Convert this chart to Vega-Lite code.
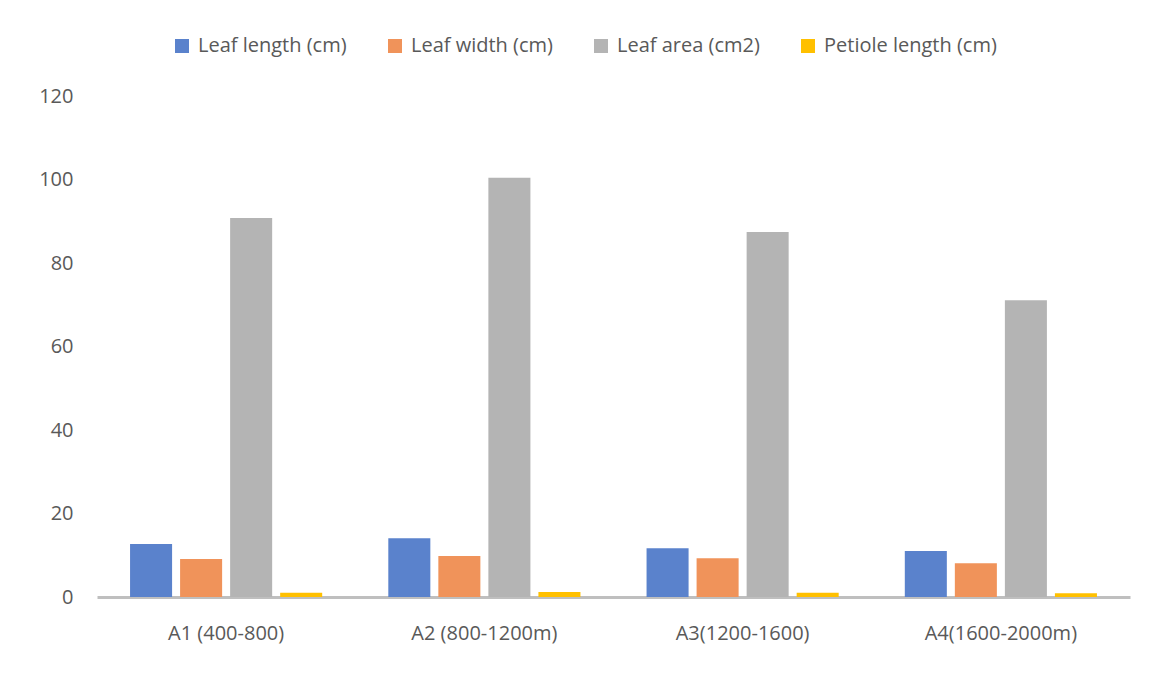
{
  "$schema": "https://vega.github.io/schema/vega-lite/v6.json",
  "width": 1033,
  "height": 501,
  "autosize": "none",
  "padding": {"left": 97, "top": 96, "right": 23, "bottom": 78},
  "background": "white",
  "config": {
    "view": {"stroke": null},
    "font": "Open Sans"
  },
  "data": {
    "values": [
      {"site": "A1 (400-800)", "trait": "Leaf length (cm)", "value": 12.7},
      {"site": "A1 (400-800)", "trait": "Leaf width (cm)", "value": 9.1},
      {"site": "A1 (400-800)", "trait": "Leaf area (cm2)", "value": 90.8},
      {"site": "A1 (400-800)", "trait": "Petiole length (cm)", "value": 1.0},
      {"site": "A2 (800-1200m)", "trait": "Leaf length (cm)", "value": 14.1},
      {"site": "A2 (800-1200m)", "trait": "Leaf width (cm)", "value": 9.8},
      {"site": "A2 (800-1200m)", "trait": "Leaf area (cm2)", "value": 100.4},
      {"site": "A2 (800-1200m)", "trait": "Petiole length (cm)", "value": 1.2},
      {"site": "A3(1200-1600)", "trait": "Leaf length (cm)", "value": 11.7},
      {"site": "A3(1200-1600)", "trait": "Leaf width (cm)", "value": 9.3},
      {"site": "A3(1200-1600)", "trait": "Leaf area (cm2)", "value": 87.4},
      {"site": "A3(1200-1600)", "trait": "Petiole length (cm)", "value": 1.0},
      {"site": "A4(1600-2000m)", "trait": "Leaf length (cm)", "value": 11.0},
      {"site": "A4(1600-2000m)", "trait": "Leaf width (cm)", "value": 8.1},
      {"site": "A4(1600-2000m)", "trait": "Leaf area (cm2)", "value": 71.1},
      {"site": "A4(1600-2000m)", "trait": "Petiole length (cm)", "value": 0.9}
    ]
  },
  "mark": {"type": "bar"},
  "encoding": {
    "x": {
      "field": "site",
      "type": "nominal",
      "sort": null,
      "title": null,
      "scale": {"paddingInner": 0.256, "paddingOuter": 0.128},
      "axis": {
        "labelAngle": 0,
        "labelFontSize": 20,
        "labelColor": "#595959",
        "labelPadding": 26,
        "ticks": false,
        "domainColor": "#bfbfbf",
        "domainWidth": 3
      }
    },
    "xOffset": {
      "field": "trait",
      "type": "nominal",
      "sort": null,
      "scale": {"paddingInner": 0.16, "paddingOuter": 0}
    },
    "y": {
      "field": "value",
      "type": "quantitative",
      "title": null,
      "scale": {"domain": [0, 120]},
      "axis": {
        "values": [0, 20, 40, 60, 80, 100, 120],
        "labelFontSize": 20,
        "labelColor": "#595959",
        "labelPadding": 24,
        "ticks": false,
        "domain": false,
        "grid": false
      }
    },
    "color": {
      "field": "trait",
      "type": "nominal",
      "sort": null,
      "title": null,
      "scale": {
        "domain": ["Leaf length (cm)", "Leaf width (cm)", "Leaf area (cm2)", "Petiole length (cm)"],
        "range": ["#5a82cc", "#f0935a", "#b4b4b4", "#ffc000"]
      },
      "legend": {
        "orient": "none",
        "direction": "horizontal",
        "legendX": 75,
        "legendY": -60,
        "symbolType": "square",
        "symbolSize": 196,
        "symbolStrokeWidth": 0,
        "labelFontSize": 20,
        "labelLimit": 400,
        "labelColor": "#595959",
        "labelOffset": 6,
        "columnPadding": 38
      }
    }
  }
}
